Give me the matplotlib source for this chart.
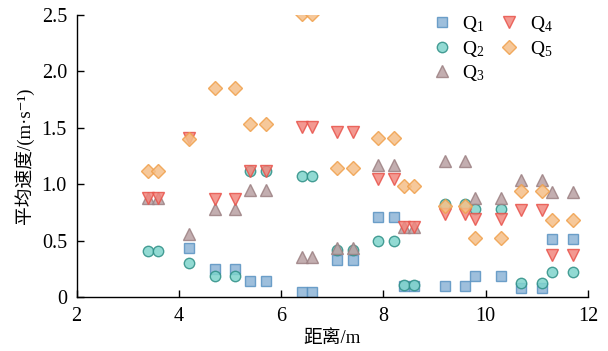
import matplotlib
matplotlib.use("Agg")
import matplotlib.pyplot as plt
from matplotlib.ticker import FuncFormatter

plt.rcParams['font.family'] = ['Liberation Serif', 'Noto Sans CJK SC', 'DejaVu Serif']
plt.rcParams['mathtext.fontset'] = 'custom'
plt.rcParams['mathtext.rm'] = 'Liberation Serif'
plt.rcParams['mathtext.it'] = 'Liberation Serif:italic'

# measuring points (distance, m) for each flow case
x_q1 = [4.2, 4.7, 5.1, 5.4, 5.7, 6.4, 6.6, 7.1, 7.4, 7.9, 8.2, 8.4, 8.6,
        9.2, 9.6, 9.8, 10.3, 10.7, 11.1, 11.3, 11.7]
v_q1 = [0.43, 0.25, 0.25, 0.14, 0.14, 0.04, 0.04, 0.33, 0.33, 0.71, 0.71,
        0.10, 0.10, 0.10, 0.10, 0.19, 0.19, 0.08, 0.08, 0.51, 0.51]

x_q2 = [3.4, 3.6, 4.2, 4.7, 5.1, 5.4, 5.7, 6.4, 6.6, 7.1, 7.4, 7.9, 8.2,
        8.4, 8.6, 9.2, 9.6, 9.8, 10.3, 10.7, 11.1, 11.3, 11.7]
v_q2 = [0.41, 0.41, 0.30, 0.19, 0.19, 1.12, 1.12, 1.07, 1.07, 0.42, 0.42,
        0.50, 0.50, 0.11, 0.11, 0.82, 0.82, 0.78, 0.78, 0.12, 0.12, 0.22, 0.22]

x_q3 = [3.4, 3.6, 4.2, 4.7, 5.1, 5.4, 5.7, 6.4, 6.6, 7.1, 7.4, 7.9, 8.2,
        8.4, 8.6, 9.2, 9.6, 9.8, 10.3, 10.7, 11.1, 11.3, 11.7]
v_q3 = [0.88, 0.88, 0.56, 0.78, 0.78, 0.95, 0.95, 0.35, 0.35, 0.43, 0.43,
        1.17, 1.17, 0.62, 0.62, 1.21, 1.21, 0.88, 0.88, 1.04, 1.04, 0.93, 0.93]

x_q4 = [3.4, 3.6, 4.2, 4.7, 5.1, 5.4, 5.7, 6.4, 6.6, 7.1, 7.4, 7.9, 8.2,
        8.4, 8.6, 9.2, 9.6, 9.8, 10.3, 10.7, 11.1, 11.3, 11.7]
v_q4 = [0.88, 0.88, 1.41, 0.87, 0.87, 1.12, 1.12, 1.51, 1.51, 1.46, 1.46,
        1.05, 1.05, 0.62, 0.62, 0.74, 0.74, 0.69, 0.69, 0.77, 0.77, 0.37, 0.37]

x_q5 = [3.4, 3.6, 4.2, 4.7, 5.1, 5.4, 5.7, 6.4, 6.6, 7.1, 7.4, 7.9, 8.2,
        8.4, 8.6, 9.2, 9.6, 9.8, 10.3, 10.7, 11.1, 11.3, 11.7]
v_q5 = [1.12, 1.12, 1.40, 1.85, 1.85, 1.53, 1.53, 2.51, 2.51, 1.14, 1.14,
        1.41, 1.41, 0.98, 0.98, 0.81, 0.81, 0.52, 0.52, 0.94, 0.94, 0.68, 0.68]

series = [
    (x_q1, v_q1, r'$\mathregular{Q_1}$', 's', '#8db4d6', '#5a93c2', 7.5),
    (x_q2, v_q2, r'$\mathregular{Q_2}$', 'o', '#7fd4cc', '#2e8f86', 7.5),
    (x_q3, v_q3, r'$\mathregular{Q_3}$', '^', '#b9a0a2', '#9c8083', 8.5),
    (x_q4, v_q4, r'$\mathregular{Q_4}$', 'v', '#f2877e', '#e8534b', 8.5),
    (x_q5, v_q5, r'$\mathregular{Q_5}$', 'D', '#f5bf88', '#f0a04c', 7.5),
]

fig = plt.figure(figsize=(6.08, 3.51), dpi=100)
ax = fig.add_axes([0.126, 0.154, 0.841, 0.803])

for xs, vs, lab, mk, fc, ec, ms in series:
    ax.plot(xs, vs, linestyle='none', marker=mk, markersize=ms,
            markerfacecolor=fc, markeredgecolor=ec, markeredgewidth=1.0,
            alpha=0.85, label=lab)

ax.set_xlim(2, 12)
ax.set_ylim(0, 2.5)
ax.set_xticks([2, 4, 6, 8, 10, 12])
ax.set_yticks([0, 0.5, 1.0, 1.5, 2.0, 2.5])
ax.yaxis.set_major_formatter(FuncFormatter(lambda v, p: '0' if v == 0 else f'{v:.1f}'))
ax.tick_params(direction='in', length=5, width=1, labelsize=14.5, pad=7)
for s in ['top', 'right']:
    ax.spines[s].set_visible(False)
for s in ['left', 'bottom']:
    ax.spines[s].set_linewidth(1.0)

ax.set_xlabel('距离/m', fontsize=13.5, labelpad=3)
ax.set_ylabel('平均速度/(m·s⁻¹)', fontsize=13.5, labelpad=5)

ax.legend(ncol=2, loc='upper right', bbox_to_anchor=(0.965, 1.065), frameon=False,
          fontsize=14, handletextpad=0.3, columnspacing=0.5, labelspacing=0.22,
          handlelength=1.5)

fig.savefig('out.png', dpi=100)
